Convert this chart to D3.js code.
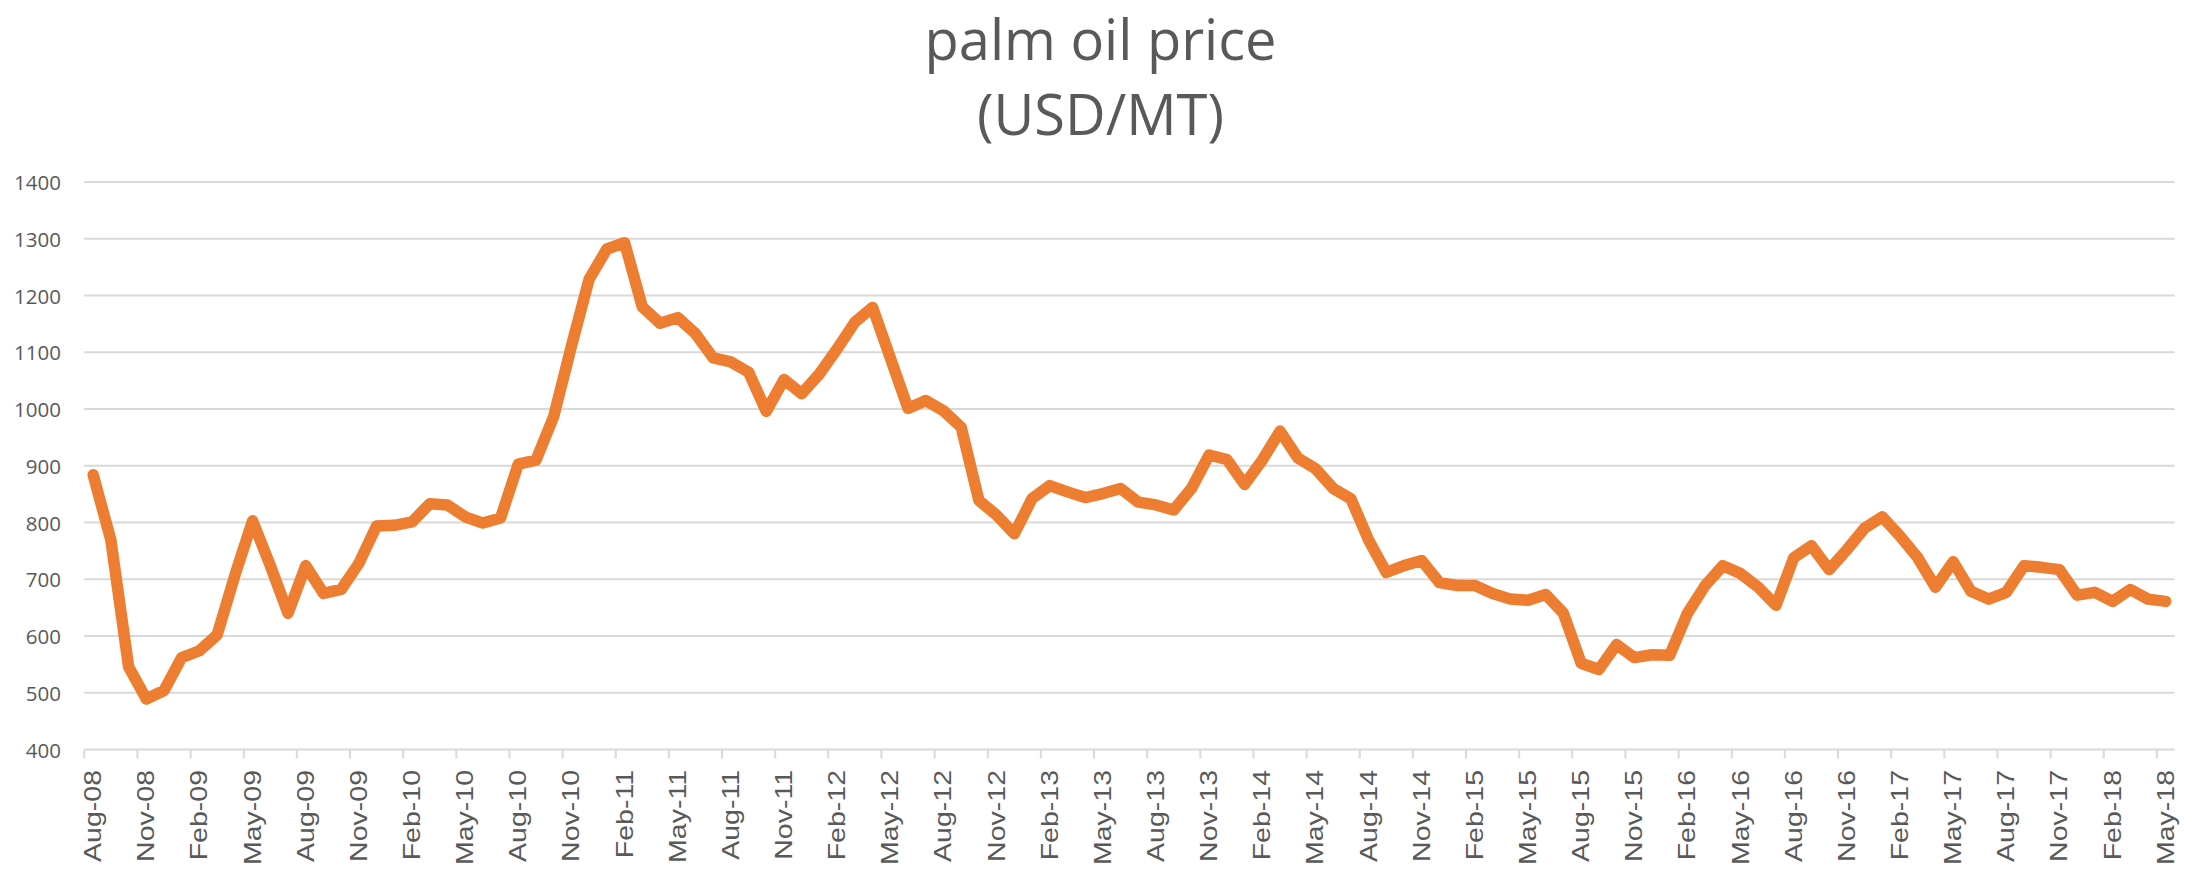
<!DOCTYPE html>
<html>
<head>
<meta charset="utf-8">
<script src="https://cdn.jsdelivr.net/npm/d3@7"></script>
<style>
  body{margin:0;background:#fff;}
</style>
</head>
<body>
<svg id="canvas" width="2201" height="870"></svg>
<script>
// monthly palm oil price, Aug-08 .. May-18 (USD/MT)
let firstMonth = new Date(Date.UTC(2008, 7, 1));
let lastMonth = new Date(Date.UTC(2018, 4, 1));
let prices = [
  884, 769, 546, 489, 504, 562, 574, 602, 707, 803, 724, 640,
  724, 675, 682, 728, 794, 795, 801, 833, 831, 810, 799, 808,
  903, 910, 987, 1111, 1229, 1282, 1293, 1180, 1151, 1161, 1133, 1090,
  1083, 1065, 996, 1052, 1027, 1062, 1106, 1153, 1179, 1090, 1001, 1015,
  997, 968, 839, 813, 780, 842, 865, 854, 844, 851, 860, 836,
  831, 822, 860, 919, 911, 867, 910, 961, 914, 895, 860, 842,
  769, 712, 724, 733, 694, 689, 689, 675, 665, 663, 673, 640,
  552, 541, 585, 562, 567, 566, 640, 689, 724, 710, 686, 654,
  738, 759, 717, 752, 790, 810, 776, 738, 686, 731, 679, 665,
  677, 724, 721, 717, 672, 677, 661, 682, 665, 661
];
let yTicks = [400, 500, 600, 700, 800, 900, 1000, 1100, 1200, 1300, 1400];
let titleLines = ["palm oil price", "(USD/MT)"];

let fmt = d3.utcFormat("%b-%y");
let months = d3.utcMonth.range(firstMonth, d3.utcMonth.offset(lastMonth, 1)).map(fmt);
let tickMonths = months.filter((m, i) => i % 3 == 0);

let canvas = d3.select("#canvas");
let w = 2201, h = 870;

let xScale = d3.scaleBand().domain(months).range([84.3, 2174.6]).padding(0);
let yScale = d3.scaleLinear().domain([400, 1400]).range([749.5, 182]);

// gridlines
canvas.append("g").selectAll("line").data(yTicks).enter().append("line")
  .attr("x1", 84.3).attr("x2", 2174.6)
  .attr("y1", d => yScale(d)).attr("y2", d => yScale(d))
  .attr("stroke", "#d9d9d9").attr("stroke-width", 2);

// y labels
canvas.append("g").selectAll("text").data(yTicks).enter().append("text")
  .text(d => d)
  .attr("x", 61).attr("y", d => yScale(d))
  .attr("text-anchor", "end").attr("dominant-baseline", "central")
  .style("font", "20.5px 'Open Sans'").attr("fill", "#595959");

// x ticks at the left edge of every third month
canvas.append("g").selectAll("line").data(tickMonths).enter().append("line")
  .attr("x1", d => xScale(d)).attr("x2", d => xScale(d))
  .attr("y1", yScale(400)).attr("y2", yScale(400) + 9)
  .attr("stroke", "#d9d9d9").attr("stroke-width", 2);

// x labels, rotated
canvas.append("g").selectAll("text").data(tickMonths).enter().append("text")
  .text(d => d)
  .attr("transform", d => "translate(" + (xScale(d) + xScale.bandwidth() / 2) + ",770) rotate(-90) scale(1.24,1)")
  .attr("text-anchor", "end").attr("dominant-baseline", "central")
  .style("font", "23px 'Liberation Sans'").attr("fill", "#595959");

// the price line
let line = d3.line()
  .x((d, i) => xScale(months[i]) + xScale.bandwidth() / 2)
  .y(d => yScale(d));

canvas.append("path").datum(prices)
  .attr("d", line)
  .attr("fill", "none").attr("stroke", "#ed7d31")
  .attr("stroke-width", 11.5)
  .attr("stroke-linejoin", "round").attr("stroke-linecap", "round");

// title
canvas.append("g").selectAll("text").data(titleLines).enter().append("text")
  .text(d => d)
  .attr("x", w / 2).attr("y", (d, i) => 60 + i * 75)
  .attr("text-anchor", "middle")
  .style("font", "56px 'Open Sans'").attr("fill", "#595959");
</script>
</body>
</html>
